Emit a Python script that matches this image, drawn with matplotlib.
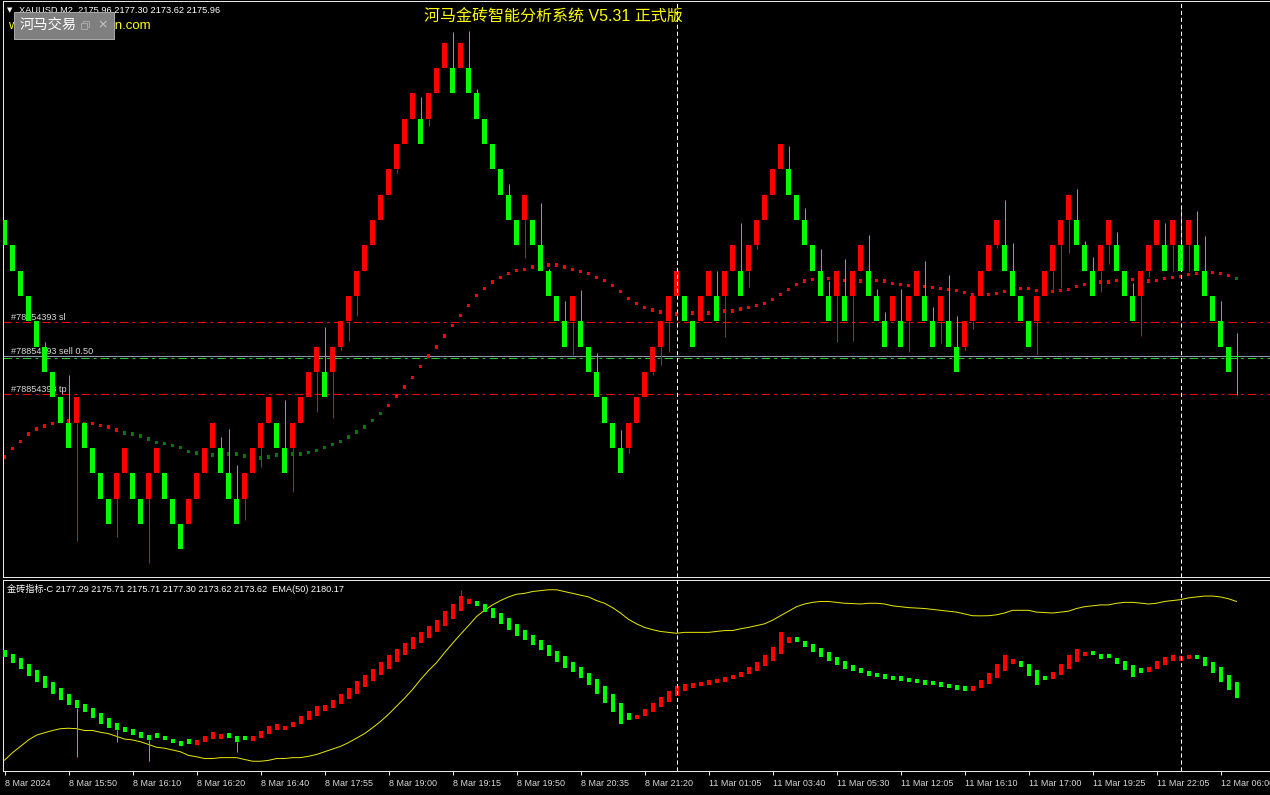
import matplotlib
matplotlib.use("Agg")
import matplotlib.pyplot as plt
from matplotlib.patches import Rectangle
from matplotlib.transforms import blended_transform_factory
import numpy as np

plt.rcParams['lines.scale_dashes'] = False

# ---------------- data ----------------
BOX = 1.5  # renko brick size ($)
brick_low = [2182.5, 2181.0, 2179.5, 2178.0, 2176.5, 2175.0, 2173.5, 2172.0, 2170.5, 2172.0,
             2170.5, 2169.0, 2167.5, 2166.0, 2167.5, 2169.0, 2167.5, 2166.0, 2167.5, 2169.0,
             2167.5, 2166.0, 2164.5, 2166.0, 2167.5, 2169.0, 2170.5, 2169.0, 2167.5, 2166.0,
             2167.5, 2169.0, 2170.5, 2172.0, 2170.5, 2169.0, 2170.5, 2172.0, 2173.5, 2175.0,
             2173.5, 2175.0, 2176.5, 2178.0, 2179.5, 2181.0, 2182.5, 2184.0, 2185.5, 2187.0,
             2188.5, 2190.0, 2188.5, 2190.0, 2191.5, 2193.0, 2191.5, 2193.0, 2191.5, 2190.0,
             2188.5, 2187.0, 2185.5, 2184.0, 2182.5, 2184.0, 2182.5, 2181.0, 2179.5, 2178.0,
             2176.5, 2178.0, 2176.5, 2175.0, 2173.5, 2172.0, 2170.5, 2169.0, 2170.5, 2172.0,
             2173.5, 2175.0, 2176.5, 2178.0, 2179.5, 2178.0, 2176.5, 2178.0, 2179.5, 2178.0,
             2179.5, 2181.0, 2179.5, 2181.0, 2182.5, 2184.0, 2185.5, 2187.0, 2185.5, 2184.0,
             2182.5, 2181.0, 2179.5, 2178.0, 2179.5, 2178.0, 2179.5, 2181.0, 2179.5, 2178.0,
             2176.5, 2178.0, 2176.5, 2178.0, 2179.5, 2178.0, 2176.5, 2178.0, 2176.5, 2175.0,
             2176.5, 2178.0, 2179.5, 2181.0, 2182.5, 2181.0, 2179.5, 2178.0, 2176.5, 2178.0,
             2179.5, 2181.0, 2182.5, 2184.0, 2182.5, 2181.0, 2179.5, 2181.0, 2182.5, 2181.0,
             2179.5, 2178.0, 2179.5, 2181.0, 2182.5, 2181.0, 2182.5, 2181.0, 2182.5, 2181.0,
             2179.5, 2178.0, 2176.5, 2175.0]
brick_up = [0, 0, 0, 0, 0, 0, 0, 0, 0, 1,
            0, 0, 0, 0, 1, 1, 0, 0, 1, 1,
            0, 0, 0, 1, 1, 1, 1, 0, 0, 0,
            1, 1, 1, 1, 0, 0, 1, 1, 1, 1,
            0, 1, 1, 1, 1, 1, 1, 1, 1, 1,
            1, 1, 0, 1, 1, 1, 0, 1, 0, 0,
            0, 0, 0, 0, 0, 1, 0, 0, 0, 0,
            0, 1, 0, 0, 0, 0, 0, 0, 1, 1,
            1, 1, 1, 1, 1, 0, 0, 1, 1, 0,
            1, 1, 0, 1, 1, 1, 1, 1, 0, 0,
            0, 0, 0, 0, 1, 0, 1, 1, 0, 0,
            0, 1, 0, 1, 1, 0, 0, 1, 0, 0,
            1, 1, 1, 1, 1, 0, 0, 0, 0, 1,
            1, 1, 1, 1, 0, 0, 0, 1, 1, 0,
            0, 0, 1, 1, 1, 0, 1, 0, 1, 0,
            0, 0, 0, 0]
# wick extremes (brick index -> price)
wick_high = {5: 2176.77, 8: 2174.84, 27: 2171.15, 28: 2171.63, 29: 2169.48, 35: 2173.31,
             40: 2177.66, 52: 2191.29, 56: 2195.13, 58: 2195.19, 59: 2191.76, 63: 2186.13,
             67: 2185.01, 68: 2181.09, 70: 2179.20, 72: 2179.86, 74: 2176.11, 77: 2171.57,
             89: 2181.00, 92: 2183.82, 98: 2188.38, 100: 2184.71, 102: 2182.28, 103: 2180.37,
             105: 2181.69, 108: 2183.12, 109: 2179.92, 110: 2178.56, 112: 2179.92, 115: 2181.57,
             116: 2178.84, 118: 2180.73, 119: 2178.32, 125: 2185.19, 126: 2182.64, 134: 2185.85,
             135: 2182.76, 136: 2181.80, 139: 2183.28, 141: 2180.28, 145: 2183.82, 147: 2184.78,
             149: 2184.54, 150: 2183.06, 152: 2179.20}
wick_low = {9: 2165.01, 14: 2165.22, 18: 2163.68, 30: 2166.24, 32: 2169.38, 36: 2167.86,
            39: 2172.63, 41: 2172.27, 42: 2176.28, 43: 2176.83, 44: 2178.33, 49: 2186.79,
            53: 2189.58, 65: 2181.74, 71: 2175.99, 78: 2170.22, 81: 2174.84, 82: 2175.44,
            83: 2176.19, 90: 2177.09, 93: 2180.04, 94: 2182.28, 104: 2176.79, 106: 2176.85,
            113: 2176.19, 117: 2176.73, 120: 2176.28, 121: 2177.54, 124: 2182.35, 129: 2176.07,
            131: 2179.74, 132: 2179.99, 133: 2182.04, 137: 2179.74, 138: 2181.39, 142: 2177.13,
            143: 2180.64, 146: 2181.00, 148: 2181.00}
# current (forming) bar: open, high, low, close
cur_ohlc = [2175.96, 2177.30, 2173.62, 2175.96]

# EMA(50) values per bar
ema50 = [2169.96, 2170.46, 2170.88, 2171.31, 2171.63, 2171.79, 2171.94, 2172.06, 2172.09, 2172.06,
         2171.94, 2171.94, 2171.82, 2171.73, 2171.55, 2171.37, 2171.31, 2171.19, 2171.01, 2170.82,
         2170.76, 2170.64, 2170.52, 2170.28, 2170.19, 2170.07, 2170.07, 2170.13, 2170.13, 2170.13,
         2170.01, 2169.89, 2169.89, 2169.95, 2170.07, 2170.07, 2170.13, 2170.13, 2170.22, 2170.34,
         2170.52, 2170.70, 2170.88, 2171.13, 2171.43, 2171.73, 2172.12, 2172.54, 2173.02, 2173.56,
         2174.09, 2174.67, 2175.33, 2175.93, 2176.46, 2177.12, 2177.75, 2178.35, 2178.93, 2179.53,
         2179.95, 2180.31, 2180.60, 2180.84, 2181.02, 2181.08, 2181.20, 2181.26, 2181.32, 2181.32,
         2181.20, 2181.08, 2180.96, 2180.84, 2180.60, 2180.42, 2180.13, 2179.77, 2179.35, 2179.05,
         2178.81, 2178.66, 2178.54, 2178.48, 2178.42, 2178.48, 2178.48, 2178.48, 2178.48, 2178.54,
         2178.60, 2178.60, 2178.72, 2178.81, 2178.93, 2179.05, 2179.29, 2179.59, 2179.89, 2180.19,
         2180.37, 2180.48, 2180.54, 2180.54, 2180.48, 2180.42, 2180.40, 2180.37, 2180.42, 2180.42,
         2180.37, 2180.25, 2180.19, 2180.13, 2180.10, 2180.07, 2180.01, 2179.95, 2179.89, 2179.83,
         2179.71, 2179.59, 2179.58, 2179.59, 2179.65, 2179.77, 2179.95, 2179.95, 2179.95, 2179.83,
         2179.80, 2179.77, 2179.83, 2179.89, 2180.07, 2180.19, 2180.25, 2180.31, 2180.31, 2180.42,
         2180.48, 2180.48, 2180.43, 2180.37, 2180.42, 2180.54, 2180.60, 2180.66, 2180.78, 2180.84,
         2180.90, 2180.90, 2180.84, 2180.72, 2180.54]
ema_state = [1] * 15 + [0] * 33 + [1] * 106 + [0] * 1

# lower indicator (金砖指标-C, Heikin-Ashi style candles): closes per bar
ind_close = [2176.84, 2176.44, 2176.04, 2175.57, 2175.17, 2174.77, 2174.37, 2173.97, 2173.64, 2173.44,
             2173.17, 2172.77, 2172.37, 2172.10, 2171.97, 2171.84, 2171.64, 2171.44, 2171.30, 2171.44,
             2171.30, 2171.10, 2170.90, 2171.04, 2171.30, 2171.57, 2171.84, 2171.70, 2171.44, 2171.17,
             2171.30, 2171.57, 2171.90, 2172.24, 2172.37, 2172.24, 2172.50, 2172.90, 2173.24, 2173.57,
             2173.64, 2173.97, 2174.37, 2174.77, 2175.24, 2175.64, 2176.04, 2176.50, 2176.97, 2177.37,
             2177.77, 2178.17, 2178.50, 2178.90, 2179.30, 2179.90, 2180.40, 2180.90, 2180.70, 2180.24,
             2179.84, 2179.44, 2179.04, 2178.64, 2178.24, 2177.97, 2177.64, 2177.30, 2176.90, 2176.50,
             2176.10, 2175.84, 2175.44, 2175.00, 2174.40, 2173.80, 2173.20, 2172.40, 2172.65, 2173.00,
             2173.40, 2173.80, 2174.20, 2174.60, 2174.90, 2175.05, 2175.10, 2175.20, 2175.30, 2175.40,
             2175.50, 2175.65, 2175.85, 2176.15, 2176.50, 2176.95, 2177.50, 2178.50, 2178.20, 2177.85,
             2177.50, 2177.15, 2176.85, 2176.55, 2176.30, 2176.05, 2175.90, 2175.75, 2175.60, 2175.50,
             2175.40, 2175.30, 2175.25, 2175.15, 2175.10, 2175.00, 2174.95, 2174.85, 2174.75, 2174.65,
             2174.60, 2174.90, 2175.30, 2175.80, 2176.40, 2176.95, 2176.70, 2176.15, 2175.60, 2175.00,
             2175.30, 2175.85, 2176.40, 2176.95, 2177.40, 2177.20, 2176.95, 2176.70, 2176.75, 2176.40,
             2176.00, 2175.50, 2175.80, 2176.20, 2176.60, 2176.85, 2177.00, 2176.90, 2177.00, 2176.70,
             2176.25, 2175.75, 2175.20, 2174.65, 2174.10]
ind_first_open = 2177.29
ind_wick_low = {9: 2170.20, 14: 2171.20, 18: 2169.90, 29: 2170.50}
ind_wick_high = {57: 2181.30}

sl_price, bid_price, open_price, tp_price = 2177.94, 2175.96, 2175.81, 2173.67
order_id = "#78854393"
sep_bars = [84, 147]

tick_bars = list(range(0, 153, 8))
tick_labels = ["8 Mar 2024", "8 Mar 15:50", "8 Mar 16:10", "8 Mar 16:20", "8 Mar 16:40",
               "8 Mar 17:55", "8 Mar 19:00", "8 Mar 19:15", "8 Mar 19:50", "8 Mar 20:35",
               "8 Mar 21:20", "11 Mar 01:05", "11 Mar 03:40", "11 Mar 05:30", "11 Mar 12:05",
               "11 Mar 16:10", "11 Mar 17:00", "11 Mar 19:25", "11 Mar 22:05", "12 Mar 06:00"]

# ---------------- style ----------------
RED = '#ff0000'
GREEN = '#00ff00'
DKGREEN = '#007a00'
TXT = '#d8d8d8'
W, H = 1270, 795
PX = 0.72  # one pixel in points
MIN_BODY = 0.3  # smallest drawn body height in the lower panel
fig = plt.figure(figsize=(W / 100, H / 100), dpi=100, facecolor='black')
FS = ['Liberation Sans', 'Noto Sans CJK SC']


def pax(x0, y0, x1, y1):
    return fig.add_axes([x0 / W, 1 - y1 / H, (x1 - x0) / W, (y1 - y0) / H])


ax = pax(3, 1, 1270, 577)
ax2 = pax(3, 580, 1270, 771)
n = len(brick_low)
xlim = (-1.5 / 8, (1270 - 4.5) / 8)
for a in (ax, ax2):
    a.set_facecolor('black')
    a.set_xlim(*xlim)
    a.set_yticks([])
    for s in ('top', 'left', 'bottom'):
        a.spines[s].set_color('#e8e8e8')
        a.spines[s].set_linewidth(PX)
    a.spines['right'].set_visible(False)
ax.set_xticks([])
ax.set_ylim(2162.85, 2196.98)

x = np.arange(n)
cols = [RED if u else GREEN for u in brick_up]
ax.bar(x, [BOX] * n, bottom=brick_low, width=0.625, color=cols, linewidth=0, zorder=3)
for i, hv in wick_high.items():
    ax.vlines(i, brick_low[i] + BOX, hv, color=cols[i], lw=PX, zorder=3)
for i, lv in wick_low.items():
    ax.vlines(i, lv, brick_low[i], color=cols[i], lw=PX, zorder=3)
xc = n
ax.vlines(xc, cur_ohlc[2], cur_ohlc[1], color=GREEN, lw=PX, zorder=3)
ax.hlines(cur_ohlc[3], xc - 0.3, xc + 0.3, color=GREEN, lw=PX, zorder=3)

# EMA dots
xe = np.arange(len(ema50))
ec = [RED if s else DKGREEN for s in ema_state]
ax.scatter(xe, ema50, marker='s', s=7, c=ec, linewidths=0, zorder=2)

# order lines
dd = (0, (6, 3, 2, 3))
ax.axhline(sl_price, color=RED, lw=PX, ls=dd, zorder=1)
ax.axhline(tp_price, color=RED, lw=PX, ls=dd, zorder=1)
ax.axhline(bid_price, color='#8a9aab', lw=PX, zorder=1)
ax.axhline(open_price, color='#22cc22', lw=PX, ls=dd, zorder=1)
tf = blended_transform_factory(ax.transAxes, ax.transData)
for yv, lab in ((sl_price, " sl"), (bid_price, " sell 0.50"), (tp_price, " tp")):
    ax.text(8 / 1267, yv + 0.12, order_id + lab, color=TXT, fontsize=6.6, family=FS,
            transform=tf, va='baseline', ha='left', zorder=1)

# separators
for a in (ax, ax2):
    for b in sep_bars:
        a.axvline(b, color='white', lw=PX, ls=(0, (3, 2)), zorder=5)

# lower panel
ax2.set_ylim(2169.24, 2181.97)
ax2.plot(xe, ema50, color='#e6e600', lw=PX, zorder=2)
ind_open = [ind_first_open]
for c in ind_close[:-1]:
    ind_open.append((ind_open[-1] + c) / 2)  # Heikin-Ashi style open
xi = np.arange(len(ind_close))
icol = [RED if c >= o else GREEN for o, c in zip(ind_open, ind_close)]
ib, ih = [], []
for o, c in zip(ind_open, ind_close):
    h = max(abs(c - o), MIN_BODY)
    ib.append(c - h if c >= o else c)
    ih.append(h)
ax2.bar(xi, ih, bottom=ib, width=0.5, color=icol, linewidth=0, zorder=3)
for i, lv in ind_wick_low.items():
    ax2.vlines(i, lv, ib[i], color=icol[i], lw=PX, zorder=3)
for i, hv in ind_wick_high.items():
    ax2.vlines(i, ib[i] + ih[i], hv, color=icol[i], lw=PX, zorder=3)

# x axis ticks
ax2.set_xticks(tick_bars)
ax2.set_xticklabels([])
ax2.tick_params(axis='x', direction='out', length=3, width=PX, color='#e8e8e8')
tb = blended_transform_factory(ax2.transData, ax2.transAxes)
for b, lab in zip(tick_bars, tick_labels):
    ax2.text(b + 0.12, -0.068, lab, transform=tb, ha='left', va='center', fontsize=6.5,
             family=FS, color=TXT, clip_on=False)

# header texts
fig.text(7 / W, 1 - 10 / H, "\u25bc", color='white', fontsize=5, ha='left', va='center',
         family=['DejaVu Sans'])
fig.text(19 / W, 1 - 10 / H, "XAUUSD,M2  2175.96 2177.30 2173.62 2175.96", color='white',
         fontsize=6.7, ha='left', va='center', family=FS)
fig.text(8 / W, 1 - 26 / H, "www.hemajinzhuan.com", color='#ffff00', fontsize=9.5,
         ha='left', va='center', family=FS)
fig.text(553 / W, 1 - 17 / H, "河马金砖智能分析系统 V5.31 正式版", color='#ffff00',
         fontsize=11.5, ha='center', va='center', family=FS)
fig.text(7 / W, 1 - 589 / H, "金砖指标-C 2177.29 2175.71 2175.71 2177.30 2173.62 2173.62  EMA(50) 2180.17",
         color='white', fontsize=6.6, ha='left', va='center', family=FS)

# popup box (window title with restore / close buttons)
fig.add_artist(Rectangle((14 / W, 1 - 39 / H), 100 / W, 27 / H, transform=fig.transFigure,
                         facecolor='#7f7f7f', edgecolor='#a8a8a8', lw=PX, zorder=10))
fig.text(20 / W, 1 - 25 / H, "河马交易", color='white', fontsize=10.3, ha='left', va='center',
         family=FS, zorder=11)
for dx, dy in ((0, 0), (2, -2)):
    fig.add_artist(Rectangle(((81 + dx) / W, 1 - (29 + dy) / H), 6 / W, 6 / H,
                             transform=fig.transFigure, facecolor='#7f7f7f',
                             edgecolor='#a8a8a8', lw=PX, zorder=11 + (dx == 0)))
fig.text(97 / W, 1 - 25 / H, "\u00d7", color='#c8c8c8', fontsize=9, ha='left', va='center',
         family=['DejaVu Sans'], zorder=11)

fig.savefig('out.png', dpi=100, facecolor='black')
